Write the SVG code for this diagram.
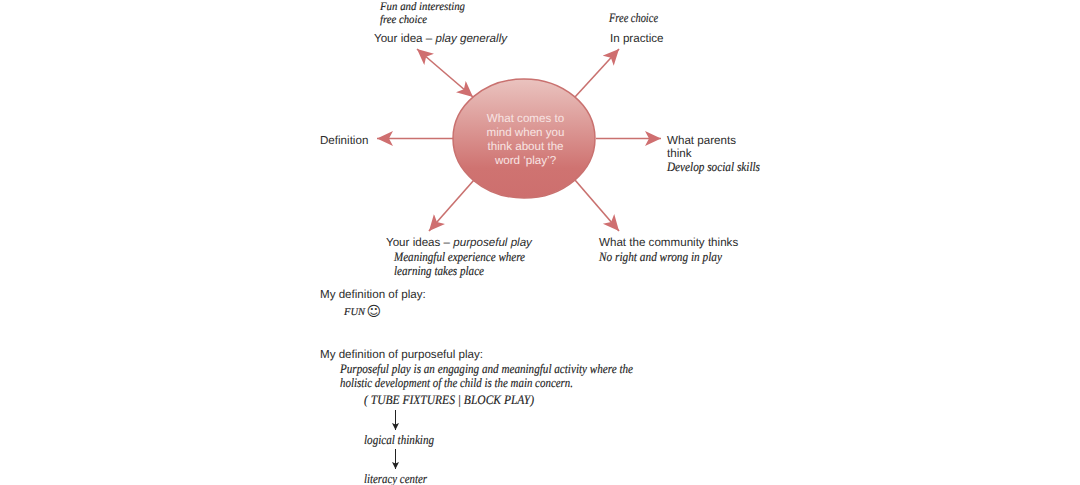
<svg xmlns="http://www.w3.org/2000/svg" width="1080" height="485" viewBox="0 0 1080 485">
<style>
text{font-family:"Liberation Sans",Arial,sans-serif;font-size:11.6px;fill:#2b2b2b;text-rendering:geometricPrecision}
.h{font-family:"Liberation Serif","Times New Roman",serif;font-style:italic;font-size:13px;fill:#222;stroke:#222;stroke-width:.15}
.s{font-size:11.5px}
.i{font-style:italic}
.w{fill:#f8e4e3;text-anchor:middle}
.c{stroke:#c9716f;stroke-width:1.6;fill:none;marker-end:url(#a)}
.k{stroke:#222;stroke-width:1;fill:none;marker-end:url(#b)}
</style>
<defs>
<linearGradient id="g" x1="0" y1="0" x2="0" y2="1"><stop offset="0" stop-color="#eac3bf"/><stop offset="0.75" stop-color="#cf7371"/><stop offset="1" stop-color="#cd6f6e"/></linearGradient>
<marker id="a" markerUnits="userSpaceOnUse" markerWidth="18" markerHeight="16" refX="16" refY="7.500" orient="auto-start-reverse"><path d="M0 0L16 7.500L0 15L4 7.500Z" fill="#cf6f70"/></marker>
<marker id="b" markerUnits="userSpaceOnUse" markerWidth="8" markerHeight="10" refX="7" refY="3.500" orient="auto"><path d="M0 0L7 3.500L0 7L1.500 3.500Z" fill="#222"/></marker>
</defs>
<g id="connectors">
<path class="c" style="marker-start:url(#a)" d="M417 49L473 97"/>
<path class="c" d="M575 97L619 49"/>
<path class="c" d="M596 138.500H661"/>
<path class="c" d="M453 138.500H377"/>
<path class="c" d="M474 180L429 231"/>
<path class="c" d="M575 180L619 231"/>
<path class="k" d="M395.500 410V430"/>
<path class="k" d="M395.500 449V469"/>
</g>
<g id="center"><ellipse cx="524" cy="138.500" rx="71" ry="59.500" fill="url(#g)" stroke="#c9716f" stroke-width="1.500"/>
<text class="w" x="525.500" y="122">What comes to</text><text class="w" x="525.500" y="136">mind when you</text><text class="w" x="525.500" y="150">think about the</text><text class="w" x="525.500" y="163.500">word ‘play’?</text></g>
<g id="idea"><text class="h s" x="380" y="10" textLength="85" lengthAdjust="spacingAndGlyphs">Fun and interesting</text><text class="h s" x="380" y="23" textLength="47" lengthAdjust="spacingAndGlyphs">free choice</text><text x="374" y="42">Your idea – <tspan class="i">play generally</tspan></text></g>
<g id="practice"><text class="h" x="609" y="22" textLength="49" lengthAdjust="spacingAndGlyphs">Free choice</text><text x="610" y="42">In practice</text></g>
<g id="definition"><text x="320" y="143.500">Definition</text></g>
<g id="parents"><text x="667" y="143.500">What parents</text><text x="667" y="157">think</text><text class="h" x="667" y="171" textLength="93" lengthAdjust="spacingAndGlyphs">Develop social skills</text></g>
<g id="ideas"><text x="386" y="245.500">Your ideas – <tspan class="i">purposeful play</tspan></text><text class="h" x="394" y="261" textLength="131" lengthAdjust="spacingAndGlyphs">Meaningful experience where</text><text class="h" x="394" y="275" textLength="90" lengthAdjust="spacingAndGlyphs">learning takes place</text></g>
<g id="community"><text x="599" y="245.500">What the community thinks</text><text class="h" x="599" y="261" textLength="123" lengthAdjust="spacingAndGlyphs">No right and wrong in play</text></g>
<g id="my-play"><text x="320" y="297.500">My definition of play:</text><text class="h" style="font-size:10.500px" x="344" y="315" textLength="21" lengthAdjust="spacingAndGlyphs">FUN</text><text x="366.500" y="316" style="font-family:'DejaVu Sans',sans-serif;font-size:14px">☺</text></g>
<g id="my-purposeful"><text x="320" y="357.500">My definition of purposeful play:</text>
<text class="h" x="340" y="373" textLength="293" lengthAdjust="spacingAndGlyphs">Purposeful play is an engaging and meaningful activity where the</text>
<text class="h" x="340" y="387" textLength="233" lengthAdjust="spacingAndGlyphs">holistic development of the child is the main concern.</text>
<text class="h" x="364" y="404" textLength="170" lengthAdjust="spacingAndGlyphs">( TUBE FIXTURES | BLOCK PLAY)</text>
<text class="h" x="364" y="444" textLength="70" lengthAdjust="spacingAndGlyphs">logical thinking</text>
<text class="h" x="364" y="483" textLength="63" lengthAdjust="spacingAndGlyphs">literacy center</text></g>
</svg>
